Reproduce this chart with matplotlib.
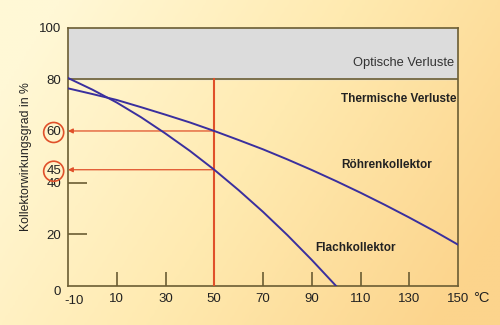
import numpy as np
import matplotlib.pyplot as plt
import matplotlib.transforms as mtransforms
from matplotlib.colors import LinearSegmentedColormap

plt.rcParams['font.family'] = ['Liberation Sans', 'DejaVu Sans']

# Temperaturdifferenz (°C) und Wirkungsgrad (%)
temp = [-10, 0, 10, 20, 30, 40, 50, 60, 70, 80, 90, 100, 110, 120, 130, 140, 150]
roehren = [76.5, 74.3, 72.0, 69.2, 66.3, 63.3, 60.0, 56.5, 52.9, 49.0, 44.9, 40.6, 36.1, 31.4, 26.5, 21.4, 16.0]
temp_flach = [-10, 0, 10, 20, 30, 40, 50, 60, 70, 80, 90, 100]
flach = [80.5, 76.0, 71.0, 65.3, 59.0, 52.3, 45.0, 37.1, 28.7, 19.7, 10.1, 0.0]

x_ticks = [-10, 10, 30, 50, 70, 90, 110, 130, 150]
y_ticks = [0, 20, 40, 45, 60, 80, 100]
t_mark = 50
eta_roehren = 60
eta_flach = 45

blau = '#3a2f9e'
rot = '#e0502a'
rahmen = '#6b5d33'

fig = plt.figure(figsize=(5, 3.25), dpi=100)

# Hintergrund mit Farbverlauf
bg = fig.add_axes([0, 0, 1, 1], zorder=-10)
gx, gy = np.meshgrid(np.linspace(0, 1, 200), np.linspace(0, 1, 130))
t = np.clip(0.85 * gx + 0.35 * gy - 0.1, 0, 1)
cmap = LinearSegmentedColormap.from_list('bg', ['#fff8d6', '#ffeab0', '#fcd48c'])
bg.imshow(t, cmap=cmap, aspect='auto', origin='upper', extent=[0, 1, 0, 1])
bg.axis('off')

ax = fig.add_axes([0.136, 0.12, 0.78, 0.795])
ax.patch.set_alpha(0)
ax.set_xlim(-10, 150)
ax.set_ylim(0, 100)

ax.axhspan(80, 100, color='#dcdcdc', zorder=1)
ax.axhline(80, color=rahmen, lw=1.2, zorder=2)

ax.plot(temp, roehren, color=blau, lw=1.4, zorder=4)
ax.plot(temp_flach, flach, color=blau, lw=1.4, zorder=4)

ax.plot([t_mark, t_mark], [0, 80], color=rot, lw=1.5, zorder=3)
for eta in (eta_roehren, eta_flach):
    ax.annotate('', xy=(-10, eta), xytext=(t_mark, eta),
                arrowprops=dict(arrowstyle='-|>', color=rot, lw=0.9,
                                mutation_scale=7, shrinkA=0, shrinkB=0),
                zorder=3)

for s in ax.spines.values():
    s.set_color(rahmen)
    s.set_linewidth(1.2)

ax.set_xticks(x_ticks)
ax.set_xticklabels([str(v) for v in x_ticks])
ax.set_yticks(y_ticks)
ax.set_yticklabels([str(v) for v in y_ticks])
ax.tick_params(axis='x', direction='in', length=10, width=1.2, color=rahmen,
               labelsize=9.5, pad=5, labelcolor='#222222')
ax.tick_params(axis='y', direction='in', length=14, width=1.2, color=rahmen,
               labelsize=9.5, pad=5, labelcolor='#222222')

for tick, v in zip(ax.yaxis.get_major_ticks(), y_ticks):
    if v not in (20, 40):
        tick.tick1line.set_visible(False)
for tick, v in zip(ax.xaxis.get_major_ticks(), x_ticks):
    if v in (-10, 150):
        tick.tick1line.set_visible(False)

fig.canvas.draw()
for lab in ax.get_yticklabels():
    if lab.get_text() in (str(eta_roehren), str(eta_flach)):
        lab.set_bbox(dict(boxstyle='circle,pad=0.2', fc='none', ec=rot, lw=1.2))
    if lab.get_text() == '0':
        lab.set_va('top')
for lab in ax.get_xticklabels():
    if lab.get_text() == '-10':
        shift = mtransforms.ScaledTranslation(6 / 100, -2 / 100, fig.dpi_scale_trans)
        lab.set_transform(lab.get_transform() + shift)

ax.set_ylabel('Kollektorwirkungsgrad in %', fontsize=8.8, labelpad=5, color='#222222')

ax.text(148.6, 86.2, 'Optische Verluste', ha='right', va='center', fontsize=9.3, color='#333333')
ax.text(149.4, 72.2, 'Thermische Verluste', ha='right', va='center', fontsize=8.5,
        fontweight='bold', color='#222222')
ax.text(120.6, 47, 'Röhrenkollektor', ha='center', va='center', fontsize=8.5,
        fontweight='bold', color='#222222')
ax.text(107.9, 14.9, 'Flachkollektor', ha='center', va='center', fontsize=8.5,
        fontweight='bold', color='#222222')
fig.text(0.962, 0.083, '°C', ha='center', va='center', fontsize=10.5, color='#222222')

fig.savefig('out.png', dpi=100)
